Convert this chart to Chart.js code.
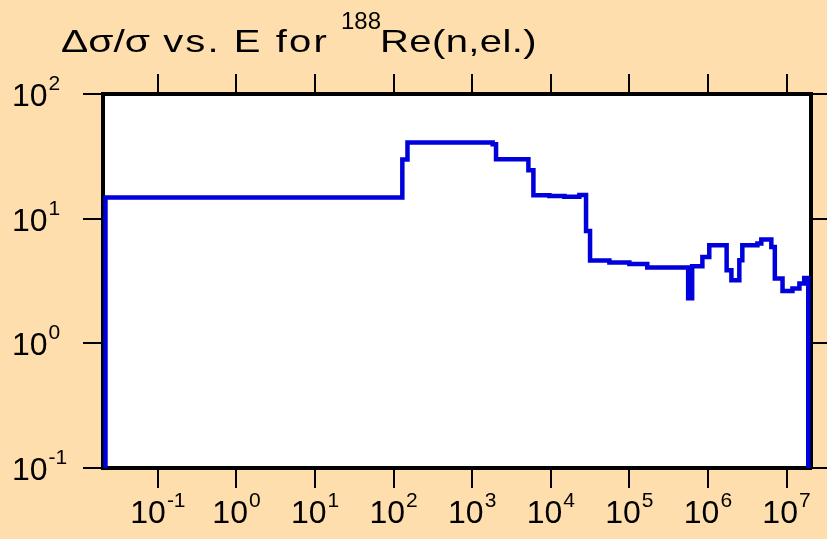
<!DOCTYPE html>
<html>
<head>
<meta charset="utf-8">
<title>Δσ/σ vs. E for 188Re(n,el.)</title>
<script src="https://cdn.jsdelivr.net/npm/chart.js@4.4.0/dist/chart.umd.min.js"></script>
<style>
  html, body { margin: 0; padding: 0; background: #ffdead; }
  canvas { display: block; }
</style>
</head>
<body>
<canvas id="grafico" width="827" height="539"></canvas>
<script>
// energia (eV) onde cada degrau começa
const energias = [
  0.0215, 0.0215, 129, 150, 1820, 2010, 5190, 6010, 9600, 14900,
  23100, 28100, 31600, 55700, 1.0e5, 1.69e5, 5.6e5, 6.3e5, 8.5e5, 1.04e6,
  1.73e6, 1.99e6, 2.51e6, 2.74e6, 4.26e6, 4.78e6, 6.41e6, 7.1e6, 8.9e6, 1.19e7,
  1.46e7, 1.68e7, 1.89e7
];
// incerteza relativa (%) de cada degrau
const incertezas = [
  0.1, 14.8, 29.8, 40.8, 39.6, 29.9, 24.5, 15.4, 15.2, 15.0,
  15.5, 7.98, 4.62, 4.45, 4.33, 4.05, 2.3, 4.15, 4.93, 6.13,
  3.86, 3.21, 4.64, 6.13, 6.32, 6.81, 5.93, 3.31, 2.63, 2.75,
  3.02, 3.35, 0.1
];
const xDecadas = [-1, 0, 1, 2, 3, 4, 5, 6, 7];
const yDecadas = [-1, 0, 1, 2];
const xLimites = [0.02, 2.05e7];
const yLimites = [0.1, 100];
const tituloPartes = ["Δσ/σ", " vs. E for ", "188", "Re(n,el.)"];

const FONTE = '"Liberation Sans", Arial, sans-serif';
const pontos = energias.map(function (e, i) {
  return { x: e, y: incertezas[i] };
});

function decadasComoTicks(lista) {
  return function (axis) {
    axis.ticks = lista.map(function (e) { return { value: Math.pow(10, e) }; });
  };
}

function eixo(posicao, limites, decadas, comprimento) {
  return {
    type: "logarithmic",
    position: posicao,
    min: limites[0],
    max: limites[1],
    afterBuildTicks: decadasComoTicks(decadas),
    ticks: { display: false },
    grid: {
      drawOnChartArea: false,
      drawTicks: true,
      tickLength: comprimento,
      color: "#000000",
      lineWidth: 2,
    },
    border: { display: true, color: "#000000", width: 4 },
  };
}

// fundo bege e área branca
const fundo = {
  id: "fundo",
  beforeDraw(chart) {
    const ctx = chart.ctx;
    const a = chart.chartArea;
    ctx.save();
    ctx.fillStyle = "#ffdead";
    ctx.fillRect(0, 0, chart.width, chart.height);
    ctx.fillStyle = "#ffffff";
    ctx.fillRect(a.left, a.top, a.right - a.left, a.bottom - a.top);
    ctx.restore();
  },
};

function potencia(ctx, exp, x, y, centro) {
  ctx.font = "32px " + FONTE;
  const wBase = ctx.measureText("10").width;
  ctx.font = "21px " + FONTE;
  const wExp = ctx.measureText(String(exp)).width;
  const x0 = centro ? x - (wBase + wExp + 1) / 2 : x;
  ctx.font = "32px " + FONTE;
  ctx.fillText("10", x0, y);
  ctx.font = "21px " + FONTE;
  ctx.fillText(String(exp), x0 + wBase + 1, y - 16);
}

// texto do título mais largo que a fonte normal: estica um pouco e espaça o resto
function parteTitulo(ctx, texto, tamanho, x, y, largura, escalaMax) {
  ctx.font = tamanho + "px " + FONTE;
  ctx.letterSpacing = "0px";
  const w = ctx.measureText(texto).width;
  const s = Math.min(largura / w, escalaMax);
  const extra = (largura / s - w) / texto.length;
  ctx.save();
  ctx.translate(x, y);
  ctx.scale(s, 1);
  ctx.letterSpacing = extra.toFixed(2) + "px";
  ctx.fillText(texto, 0, 0);
  ctx.restore();
  ctx.letterSpacing = "0px";
}

// rótulos com expoente e título
const rotulos = {
  id: "rotulos",
  afterDraw(chart) {
    const ctx = chart.ctx;
    const sx = chart.scales.x;
    const sy = chart.scales.y;
    ctx.save();
    ctx.fillStyle = "#000000";
    ctx.textBaseline = "alphabetic";
    ctx.textAlign = "left";
    xDecadas.forEach(function (e) {
      potencia(ctx, e, sx.getPixelForValue(Math.pow(10, e)), 523, true);
    });
    yDecadas.forEach(function (e) {
      potencia(ctx, e, 12, sy.getPixelForValue(Math.pow(10, e)) + 12, false);
    });

    parteTitulo(ctx, tituloPartes[0], 32, 61, 52, 89, 2);
    parteTitulo(ctx, tituloPartes[1], 32, 150, 52, 192, 1.25);
    parteTitulo(ctx, tituloPartes[2], 24, 341, 29, 40, 1.1);
    parteTitulo(ctx, tituloPartes[3], 32, 380, 52, 157, 1.25);
    ctx.restore();
  },
};

new Chart(document.getElementById("grafico"), {
  type: "line",
  data: {
    datasets: [
      {
        data: pontos,
        stepped: "before",
        borderColor: "#0000dd",
        borderWidth: 4.5,
        pointRadius: 0,
        fill: false,
      },
    ],
  },
  options: {
    responsive: false,
    animation: false,
    layout: { padding: { left: 83, top: 74, right: 0, bottom: 51 } },
    plugins: {
      legend: { display: false },
      tooltip: { enabled: false },
    },
    scales: {
      x: eixo("bottom", xLimites, xDecadas, 20),
      x2: eixo("top", xLimites, xDecadas, 20),
      y: eixo("left", yLimites, yDecadas, 20),
      y2: eixo("right", yLimites, yDecadas, 16),
    },
  },
  plugins: [fundo, rotulos],
});
</script>
</body>
</html>
